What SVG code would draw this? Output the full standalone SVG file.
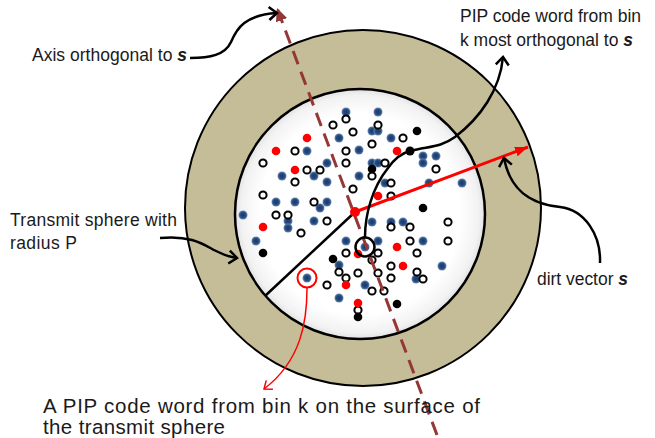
<svg xmlns="http://www.w3.org/2000/svg" width="655" height="438" viewBox="0 0 655 438">
<defs>
<radialGradient id="disk" cx="0.5" cy="0.5" r="0.5">
<stop offset="0.8" stop-color="#ffffff"/>
<stop offset="0.95" stop-color="#f2f2f2"/>
<stop offset="1" stop-color="#e2e2e2"/>
</radialGradient>
<radialGradient id="bg" cx="0.5" cy="0.5" r="0.5">
<stop offset="0" stop-color="#1c3866"/>
<stop offset="0.6" stop-color="#254c80"/>
<stop offset="1" stop-color="#6d8bb5"/>
</radialGradient>
<marker id="triDark" markerUnits="userSpaceOnUse" markerWidth="14" markerHeight="12" refX="13" refY="6" orient="auto">
<path d="M0,0 L13,6 L0,12 z" fill="#953735"/>
</marker>
<marker id="triRed" markerUnits="userSpaceOnUse" markerWidth="14" markerHeight="12" refX="13" refY="6" orient="auto">
<path d="M0,1 L13,6 L0,11 z" fill="#ff0000"/>
</marker>
<marker id="chev" markerUnits="userSpaceOnUse" markerWidth="14" markerHeight="16" refX="10" refY="8" orient="auto">
<path d="M2,1.5 L10,8 L2,14.5" fill="none" stroke="#000" stroke-width="2.5" stroke-linejoin="miter"/>
</marker>
<marker id="chevRed" markerUnits="userSpaceOnUse" markerWidth="14" markerHeight="14" refX="9" refY="7" orient="auto">
<path d="M2,1.5 L9,7 L2,12.5" fill="none" stroke="#ff0000" stroke-width="1.5"/>
</marker>
</defs>
<style>
.b { fill: url(#bg); }
.o { fill: #ffffff; stroke: #000000; stroke-width: 2; }
.r { fill: #ff0000; }
.k { fill: #000000; }
.lbl { font-family: "Liberation Sans", Arial, sans-serif; font-size: 17.5px; fill: #1a1a1a; }
.big { font-size: 20.5px; }
.s { font-weight: bold; font-style: italic; }
.cv { fill: none; stroke: #000000; stroke-width: 2.5; }
</style>

<g id="outer-sphere">
<circle cx="363" cy="208" r="178" fill="#c4bd97" stroke="#000" stroke-width="2"/>
</g>
<g id="transmit-sphere">
<circle cx="360" cy="214" r="125" fill="url(#disk)" stroke="#000" stroke-width="2.5"/>
</g>

<g id="code-words">
<g id="blue-dots">
<circle class="b" cx="346" cy="112" r="4.5"/>
<circle class="b" cx="378" cy="112" r="4.5"/>
<circle class="b" cx="339" cy="138" r="4.5"/>
<circle class="b" cx="307" cy="151" r="4.5"/>
<circle class="b" cx="372" cy="131" r="4.5"/>
<circle class="b" cx="378" cy="131" r="4.5"/>
<circle class="b" cx="391" cy="138" r="4.5"/>
<circle class="b" cx="359" cy="150" r="4.5"/>
<circle class="b" cx="327" cy="163" r="4.5"/>
<circle class="b" cx="282" cy="176" r="4.5"/>
<circle class="b" cx="314" cy="176" r="4.5"/>
<circle class="b" cx="359" cy="176" r="4.5"/>
<circle class="b" cx="327" cy="182" r="4.5"/>
<circle class="b" cx="276" cy="202" r="4.5"/>
<circle class="b" cx="295" cy="202" r="4.5"/>
<circle class="b" cx="327" cy="202" r="4.5"/>
<circle class="b" cx="320" cy="208" r="4.5"/>
<circle class="b" cx="372" cy="163" r="4.5"/>
<circle class="b" cx="378" cy="163" r="4.5"/>
<circle class="b" cx="423" cy="156" r="4.5"/>
<circle class="b" cx="423" cy="163" r="4.5"/>
<circle class="b" cx="436" cy="156" r="4.5"/>
<circle class="b" cx="385" cy="183" r="4.5"/>
<circle class="b" cx="429" cy="183" r="4.5"/>
<circle class="b" cx="462" cy="183" r="4.5"/>
<circle class="b" cx="243" cy="215" r="4.5"/>
<circle class="b" cx="288" cy="221" r="4.5"/>
<circle class="b" cx="288" cy="228" r="4.5"/>
<circle class="b" cx="314" cy="221" r="4.5"/>
<circle class="b" cx="256" cy="241" r="4.5"/>
<circle class="b" cx="346" cy="241" r="4.5"/>
<circle class="b" cx="339" cy="265" r="4.5"/>
<circle class="b" cx="307" cy="278" r="4.5"/>
<circle class="b" cx="339" cy="298" r="4.5"/>
<circle class="b" cx="372" cy="222" r="4.5"/>
<circle class="b" cx="391" cy="222" r="4.5"/>
<circle class="b" cx="403" cy="222" r="4.5"/>
<circle class="b" cx="365" cy="247" r="4.5"/>
<circle class="b" cx="378" cy="241" r="4.5"/>
<circle class="b" cx="423" cy="241" r="4.5"/>
<circle class="b" cx="442" cy="266" r="4.5"/>
<circle class="b" cx="416" cy="279" r="4.5"/>
<circle class="b" cx="365" cy="285" r="4.5"/>
</g>
<g id="open-dots">
<circle class="o" cx="346" cy="119" r="3.6"/>
<circle class="o" cx="333" cy="125" r="3.6"/>
<circle class="o" cx="353" cy="132" r="3.6"/>
<circle class="o" cx="295" cy="151" r="3.6"/>
<circle class="o" cx="346" cy="151" r="3.6"/>
<circle class="o" cx="263" cy="163" r="3.6"/>
<circle class="o" cx="307" cy="170" r="3.6"/>
<circle class="o" cx="320" cy="170" r="3.6"/>
<circle class="o" cx="346" cy="163" r="3.6"/>
<circle class="o" cx="295" cy="182" r="3.6"/>
<circle class="o" cx="353" cy="189" r="3.6"/>
<circle class="o" cx="263" cy="195" r="3.6"/>
<circle class="o" cx="314" cy="202" r="3.6"/>
<circle class="o" cx="378" cy="125" r="3.6"/>
<circle class="o" cx="403" cy="138" r="3.6"/>
<circle class="o" cx="372" cy="144" r="3.6"/>
<circle class="o" cx="385" cy="163" r="3.6"/>
<circle class="o" cx="372" cy="176" r="3.6"/>
<circle class="o" cx="436" cy="169" r="3.6"/>
<circle class="o" cx="391" cy="183" r="3.6"/>
<circle class="o" cx="391" cy="196" r="3.6"/>
<circle class="o" cx="276" cy="215" r="3.6"/>
<circle class="o" cx="288" cy="215" r="3.6"/>
<circle class="o" cx="327" cy="221" r="3.6"/>
<circle class="o" cx="301" cy="233" r="3.6"/>
<circle class="o" cx="346" cy="253" r="3.6"/>
<circle class="o" cx="339" cy="272" r="3.6"/>
<circle class="o" cx="327" cy="285" r="3.6"/>
<circle class="o" cx="346" cy="278" r="3.6"/>
<circle class="o" cx="358" cy="273" r="3.6"/>
<circle class="o" cx="391" cy="227" r="3.6"/>
<circle class="o" cx="410" cy="227" r="3.6"/>
<circle class="o" cx="448" cy="222" r="3.6"/>
<circle class="o" cx="410" cy="241" r="3.6"/>
<circle class="o" cx="448" cy="241" r="3.6"/>
<circle class="o" cx="378" cy="253" r="3.6"/>
<circle class="o" cx="417" cy="253" r="3.6"/>
<circle class="o" cx="372" cy="260" r="3.6"/>
<circle class="o" cx="391" cy="266" r="3.6"/>
<circle class="o" cx="378" cy="273" r="3.6"/>
<circle class="o" cx="391" cy="278" r="3.6"/>
<circle class="o" cx="417" cy="272" r="3.6"/>
<circle class="o" cx="423" cy="279" r="3.6"/>
<circle class="o" cx="372" cy="291" r="3.6"/>
<circle class="o" cx="384" cy="291" r="3.6"/>
<circle class="o" cx="358" cy="310" r="3.6"/>
</g>
<g id="red-dots">
<circle class="r" cx="307" cy="138" r="4.3"/>
<circle class="r" cx="276" cy="151" r="4.3"/>
<circle class="r" cx="295" cy="170" r="4.3"/>
<circle class="r" cx="397" cy="151" r="4.3"/>
<circle class="r" cx="378" cy="196" r="4.3"/>
<circle class="r" cx="263" cy="227" r="4.3"/>
<circle class="r" cx="397" cy="247" r="4.3"/>
<circle class="r" cx="403" cy="266" r="4.3"/>
<circle class="r" cx="346" cy="285" r="4.3"/>
<circle class="r" cx="358" cy="303" r="4.3"/>
<circle class="r" cx="358" cy="254" r="4.3"/>
</g>
<g id="black-dots">
<circle class="k" cx="417" cy="131" r="4.3"/>
<circle class="k" cx="372" cy="169" r="4.3"/>
<circle class="k" cx="423" cy="208" r="4.3"/>
<circle class="k" cx="263" cy="253" r="4.3"/>
<circle class="k" cx="333" cy="259" r="4.3"/>
<circle class="k" cx="397" cy="304" r="4.3"/>
<circle class="k" cx="358" cy="317" r="4.3"/>
</g>
</g>

<g id="connectors">
<line id="axis" x1="437" y1="435" x2="277" y2="8" stroke="#953735" stroke-width="3" stroke-dasharray="14 8" marker-end="url(#triDark)"/>
<line id="radius" x1="265" y1="296" x2="355" y2="212" stroke="#000" stroke-width="2.5"/>
<line id="dirt-vector" x1="355" y1="212" x2="528" y2="147" stroke="#ff0000" stroke-width="3" marker-end="url(#triRed)"/>
<path id="pip-orth-link" class="cv" d="M365,237 C365,215 372,188 388,168 C395,158 402,153 410,151 C428,146 440,148 455,137 C480,118 500,90 503,57" marker-end="url(#chev)"/>
<path id="axis-label-link" class="cv" d="M190,58 C210,58 225,55 231,42 C237,28 245,15 277,13" marker-end="url(#chev)"/>
<path id="sphere-label-link" class="cv" d="M160,238 C190,235 203,244 214,250 C222,254 229,257 237,258" marker-end="url(#chev)"/>
<path id="dirt-label-link" class="cv" d="M600,263 C601,235 585,210 560,207 C530,204 510,190 504,158" marker-end="url(#chev)"/>
<path id="bin-k-link" d="M307,288 C307,320 302,360 264,389" fill="none" stroke="#ff0000" stroke-width="1.5" marker-end="url(#chevRed)"/>
</g>

<g id="highlights">
<circle cx="355" cy="212" r="5" fill="#ff0000"/>
<circle cx="410" cy="151" r="4.5" fill="#000"/>
<circle cx="365" cy="247" r="9.5" fill="none" stroke="#000" stroke-width="2.5"/>
<circle cx="307" cy="278" r="9.5" fill="none" stroke="#ff0000" stroke-width="2"/>
</g>

<g id="labels">
<text class="lbl" x="32" y="61" textLength="155">Axis orthogonal to <tspan class="s">s</tspan></text>
<text class="lbl" x="460" y="22" textLength="181">PIP code word from bin</text>
<text class="lbl" x="460" y="46" textLength="173">k most orthogonal to <tspan class="s">s</tspan></text>
<text class="lbl" x="10" y="226" textLength="167">Transmit sphere with</text>
<text class="lbl" x="10" y="249" textLength="67">radius P</text>
<text class="lbl" x="537" y="285" textLength="91">dirt vector <tspan class="s">s</tspan></text>
<text class="lbl big" x="43" y="413" textLength="437">A PIP code word from bin k on the surface of</text>
<text class="lbl big" x="43" y="434" textLength="182">the transmit sphere</text>
</g>
</svg>
